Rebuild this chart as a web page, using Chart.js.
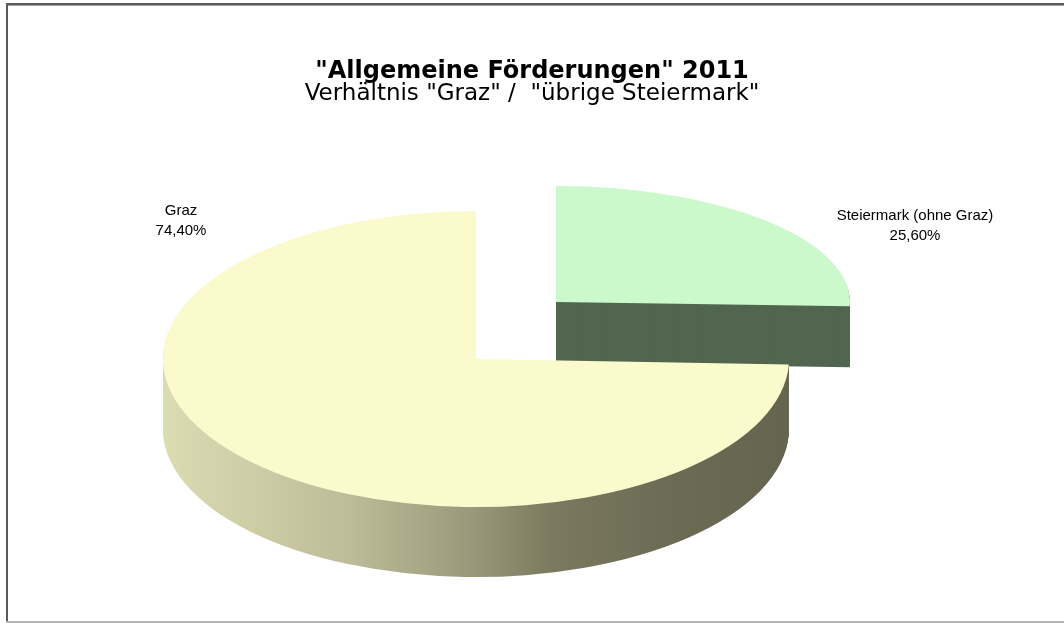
<!DOCTYPE html>
<html><head><meta charset="utf-8">
<script src="https://cdn.jsdelivr.net/npm/chart.js@4/dist/chart.umd.min.js"></script>
<style>html,body{margin:0;padding:0;background:#fff;} canvas{display:block;}</style>
</head><body>
<canvas id="c" width="1064" height="623"></canvas>
<script>
const categories = ['Graz', 'Steiermark (ohne Graz)'];
const shares = [74.40, 25.60];
const titleText = '"Allgemeine Förderungen" 2011';
const subtitleText = 'Verhältnis "Graz" /  "übrige Steiermark"';
const topColors = ['#FAFACC', '#CCF9CC'];

const fmt = v => v.toFixed(2).replace('.', ',') + '%';

// styling of the 3D look: screen ellipse centre, radii and extrusion depth per slice
const sliceStyle = [
  {cx: 476, cy: 359, rx: 313, ry: 148, depth: 70, side: 'gradient'},
  {cx: 556, cy: 302, rx: 294, ry: 116, depth: 61, side: '#52664F'}
];
const labelPos = [{x: 181, y: 211}, {x: 915, y: 216}];

const pie3d = {
  id: 'pie3d',
  beforeDraw(chart) {
    const ctx = chart.ctx;
    ctx.save();
    ctx.fillStyle = '#fff';
    ctx.fillRect(0, 0, chart.width, chart.height);
    ctx.fillStyle = '#5a5a5a';
    ctx.fillRect(6, 3, chart.width, 2);
    ctx.fillRect(6, 3, 2, 620);
    ctx.fillStyle = '#a0a0a0';
    ctx.fillRect(8, 5, chart.width, 1);
    ctx.fillStyle = '#b4b4b4';
    ctx.fillRect(6, 621, chart.width, 2);
    ctx.restore();
  },
  beforeDatasetsDraw(chart) {
    const ctx = chart.ctx;
    const arcs = chart.getDatasetMeta(0).data;
    [1, 0].forEach(i => {
      const arc = arcs[i], st = sliceStyle[i];
      const R = arc.outerRadius;
      const sx = st.rx / R, sy = st.ry / R;
      let sideFill = st.side;
      if (st.side === 'gradient') {
        const g = ctx.createLinearGradient(arc.x - R, 0, arc.x + R, 0);
        g.addColorStop(0, '#DCDCB3');
        g.addColorStop(0.3, '#BDBC98');
        g.addColorStop(0.5, '#989779');
        g.addColorStop(0.62, '#7B7A60');
        g.addColorStop(0.8, '#6C6B54');
        g.addColorStop(1, '#65644E');
        sideFill = g;
      }
      const orig = arc.options;
      for (let d = st.depth; d >= 0; d--) {
        ctx.save();
        ctx.translate(st.cx, st.cy + d);
        ctx.scale(sx, sy);
        ctx.translate(-arc.x, -arc.y);
        arc.options = Object.assign({}, orig, {backgroundColor: d === 0 ? orig.backgroundColor : sideFill, borderWidth: 0});
        arc.draw(ctx);
        ctx.restore();
      }
      arc.options = orig;
    });
    return false;
  },
  afterDraw(chart) {
    const ctx = chart.ctx;
    ctx.save();
    ctx.fillStyle = '#000';
    ctx.font = '15px "Liberation Sans", Arial, sans-serif';
    ctx.textAlign = 'center';
    ctx.textBaseline = 'middle';
    categories.forEach((c, i) => {
      const p = labelPos[i];
      ctx.fillText(c, p.x, p.y);
      ctx.fillText(fmt(shares[i]), p.x, p.y + 20);
    });
    ctx.restore();
  }
};

const total = shares.reduce((a, b) => a + b, 0);
new Chart(document.getElementById('c'), {
  type: 'pie',
  data: {
    labels: categories,
    datasets: [{data: shares, backgroundColor: topColors, borderWidth: 0}]
  },
  options: {
    responsive: false,
    animation: false,
    devicePixelRatio: 1,
    rotation: 360 * shares[1] / total,
    layout: {padding: 0},
    plugins: {
      legend: {display: false},
      tooltip: {enabled: false},
      title: {display: true, text: titleText, color: '#000',
        font: {family: 'DejaVu Sans', size: 24, weight: 'bold', lineHeight: 0.9},
        padding: {top: 61, bottom: 0}},
      subtitle: {display: true, text: subtitleText, color: '#000',
        font: {family: 'DejaVu Sans', size: 23, weight: 'normal', lineHeight: 1},
        padding: {top: 0, bottom: 10}}
    }
  },
  plugins: [pie3d]
});
</script>
</body></html>
